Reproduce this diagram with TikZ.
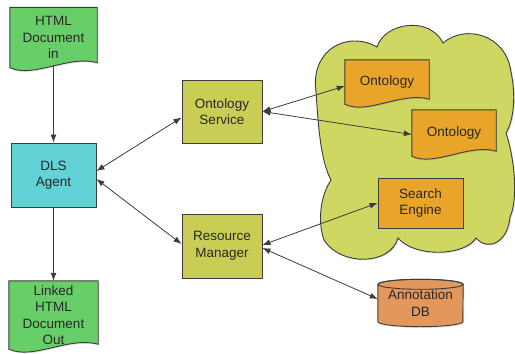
\documentclass[tikz,border=0pt]{standalone}
\usepackage{fontspec}
\setmainfont{Liberation Sans}
\usetikzlibrary{arrows.meta,calc,shadows}

\definecolor{docgreen}{RGB}{104,206,104}
\definecolor{agentcyan}{RGB}{98,210,214}
\definecolor{olive}{RGB}{200,206,84}
\definecolor{cloudfill}{RGB}{206,215,98}
\definecolor{orangebox}{RGB}{232,165,42}
\definecolor{dbfill}{RGB}{226,152,92}
\definecolor{edge}{RGB}{60,60,60}
\definecolor{txt}{RGB}{40,40,40}

\pgfdeclarelayer{cloudlayer}
\pgfdeclarelayer{links}
\pgfdeclarelayer{shapes}
\pgfsetlayers{cloudlayer,links,shapes,main}

\tikzset{
  soft/.style={drop shadow={shadow xshift=1.2pt, shadow yshift=-1.2pt, opacity=0.25}},
  label text/.style={font=\fontsize{13.5}{16.5}\selectfont, text=txt, align=center, inner sep=0pt},
  box/.style={label text, draw=edge, line width=0.9pt, soft},
  shapeonly/.style={label text, rectangle},
  outline/.style={draw=edge, line width=0.9pt, soft},
  link/.style={draw=edge, line width=0.8pt},
  tip/.tip={Latex[length=8pt,width=6pt]},
}

% document shape: flat top, wavy bottom; right end sits a little higher
\newcommand\docshape[2]{%
  \begin{pgfonlayer}{shapes}
  \path[outline, fill=#2] (#1.north west) -- (#1.north east)
    -- ($(#1.south east)+(0,-5)$)
    .. controls ($(#1.south)+(15,-13)$) and ($(#1.south)+(-20,11)$) .. (#1.south west)
    -- cycle;
  \end{pgfonlayer}}

\begin{document}
\begin{tikzpicture}[x=1pt,y=-1pt]
\useasboundingbox (0,0) rectangle (515,354);

% cloud holding the knowledge sources
\begin{pgfonlayer}{cloudlayer}
\path[outline, fill=cloudfill]
  (316,92)
  .. controls (310,50) and (347,30) .. (377,47)
  .. controls (385,22) and (430,16) .. (443,43)
  .. controls (465,24) and (506,34) .. (511,72)
  .. controls (516,95) and (514,120) .. (506,133)
  .. controls (515,160) and (518,200) .. (510,217)
  .. controls (508,242) and (488,252) .. (476,238)
  .. controls (465,256) and (415,258) .. (398,238)
  .. controls (390,266) and (340,266) .. (324,240)
  .. controls (317,220) and (321,195) .. (331,180)
  .. controls (320,160) and (318,120) .. (316,92)
  -- cycle;
\end{pgfonlayer}

% nodes
\node[shapeonly, minimum width=87pt, minimum height=60pt] (docin) at (53.5,37.5) {HTML\\Document\\in};
\node[box, fill=agentcyan, minimum width=85pt, minimum height=64pt] (dls) at (53.5,175) {DLS\\Agent};
\node[shapeonly, minimum width=89pt, minimum height=68pt] (docout) at (53.5,315) {Linked\\HTML\\Document\\Out};

\node[box, fill=olive, minimum width=80pt, minimum height=63pt] (os) at (222,111.5) {Ontology\\Service};
\node[box, fill=olive, minimum width=80pt, minimum height=64pt] (rm) at (222,246) {Resource\\Manager};

\node[shapeonly, minimum width=84pt, minimum height=44pt] (ont1) at (387,82) {Ontology};
\node[shapeonly, minimum width=84pt, minimum height=46pt] (ont2) at (454,133) {Ontology};
\node[box, fill=orangebox, minimum width=85pt, minimum height=50pt] (se) at (420.5,203) {Search\\Engine};
\node[shapeonly, minimum width=85pt, minimum height=47pt] (db) at (420.5,303) {Annotation\\DB};

% document shapes
\docshape{docin}{docgreen}
\docshape{docout}{docgreen}
\docshape{ont1}{orangebox}
\docshape{ont2}{orangebox}

% annotation database cylinder
\begin{pgfonlayer}{shapes}
\path[outline, fill=dbfill]
  ($(db.north west)+(0,5)$) -- ($(db.south west)+(0,-5)$)
  arc[start angle=180, end angle=0, x radius=42.5, y radius=5]
  -- ($(db.north east)+(0,5)$)
  arc[start angle=0, end angle=-180, x radius=42.5, y radius=5]
  -- cycle;
\draw[draw=edge, line width=0.9pt] ($(db.north)+(0,5)$) ellipse[x radius=42.5, y radius=5];
\end{pgfonlayer}

% connectors
\begin{pgfonlayer}{links}
\draw[link, -tip] (docin.center) -- (dls.north);
\draw[link, -tip] (dls.south) -- (docout.north);
\draw[link, tip-tip] ([yshift=4pt]dls.east) -- ([yshift=-6pt]os.west);
\draw[link, tip-tip] ([yshift=-4pt]dls.east) -- ([yshift=2pt]rm.west);
\draw[link, tip-tip] (os.east) -- ([yshift=-4pt]ont1.west);
\draw[link, tip-tip] (os.east) -- ([yshift=-1.5pt]ont2.west);
\draw[link, tip-tip] ([yshift=1pt]rm.east) -- (se.west);
\draw[link, tip-tip] ([yshift=-2pt]rm.east) -- ([yshift=4pt]db.west);
\end{pgfonlayer}
\end{tikzpicture}
\end{document}
